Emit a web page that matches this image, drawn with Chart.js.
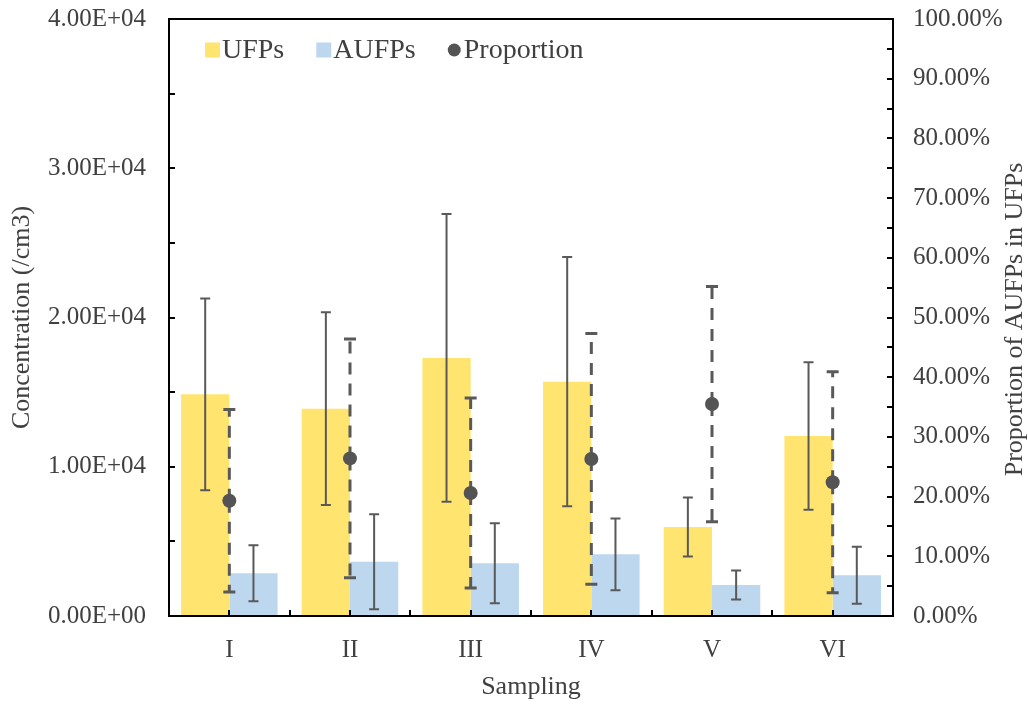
<!DOCTYPE html>
<html>
<head>
<meta charset="utf-8">
<script src="https://cdn.jsdelivr.net/npm/chart.js@4.4.1/dist/chart.umd.min.js"></script>
<style>
  html, body { margin: 0; padding: 0; background: #ffffff; }
  #wrap { width: 1028px; height: 704px; }
</style>
</head>
<body>
<div id="wrap"><canvas id="c" width="1028" height="704"></canvas></div>
<script>
// ---- data ----
const categories = ['I', 'II', 'III', 'IV', 'V', 'VI'];
const ufpMean = [14850, 13890, 17290, 15700, 5960, 12060];
const ufpSd = [6430, 6460, 9640, 8350, 1980, 4940];
const aufpMean = [2860, 3640, 3530, 4130, 2080, 2730];
const aufpSd = [1880, 3180, 2680, 2410, 970, 1910];
const proportion = [19.3, 26.4, 20.6, 26.3, 35.5, 22.4];
const proportionSd = [15.3, 20.0, 15.9, 21.0, 19.7, 18.5];
const seriesNames = ['UFPs', 'AUFPs', 'Proportion'];
const axisTitles = { x: 'Sampling', y: 'Concentration (/cm3)', y1: 'Proportion of AUFPs in UFPs' };

// ---- style ----
const FONT = 'Liberation Serif';
const TXT = '#404040';
const YELLOW = '#FFE46F';
const BLUE = '#BDD7EE';
const DOT = '#545454';
const ERR = '#595959';
const TARGET = { left: 169, top: 19, right: 893, bottom: 616 };

function sci(v) {
  if (v === 0) return '0.00E+00';
  const e = Math.floor(Math.log10(Math.abs(v)));
  const m = v / Math.pow(10, e);
  return m.toFixed(2) + 'E' + (e < 0 ? '-' : '+') + String(Math.abs(e)).padStart(2, '0');
}

const extras = {
  id: 'extras',
  afterDatasetDraw(chart, args) {
    const ds = chart.data.datasets[args.index];
    if (ds.type !== 'bar') return;
    const ctx = chart.ctx;
    const ys = chart.scales[ds.yAxisID];
    ctx.save();
    ctx.strokeStyle = ERR;
    ctx.lineWidth = 2;
    args.meta.data.forEach((el, i) => {
      const x = el.x;
      const hi = ys.getPixelForValue(ds.data[i] + ds.errors[i]);
      const lo = ys.getPixelForValue(ds.data[i] - ds.errors[i]);
      ctx.beginPath();
      ctx.moveTo(x, hi); ctx.lineTo(x, lo);
      ctx.moveTo(x - 5, hi); ctx.lineTo(x + 5, hi);
      ctx.moveTo(x - 5, lo); ctx.lineTo(x + 5, lo);
      ctx.stroke();
    });
    ctx.restore();
  },
  beforeDatasetDraw(chart, args) {
    const ds = chart.data.datasets[args.index];
    if (ds.type !== 'line') return;
    const ctx = chart.ctx;
    const ys = chart.scales[ds.yAxisID];
    ctx.save();
    ctx.strokeStyle = ERR;
    ctx.lineWidth = 3;
    args.meta.data.forEach((el, i) => {
      const x = el.x, y = el.y;
      const hi = ys.getPixelForValue(ds.data[i] + ds.errors[i]);
      const lo = ys.getPixelForValue(ds.data[i] - ds.errors[i]);
      ctx.setLineDash([12, 9]);
      ctx.beginPath();
      ctx.moveTo(x, y); ctx.lineTo(x, hi);
      ctx.moveTo(x, y); ctx.lineTo(x, lo);
      ctx.stroke();
      ctx.setLineDash([]);
      ctx.beginPath();
      ctx.moveTo(x - 6, hi); ctx.lineTo(x + 6, hi);
      ctx.moveTo(x - 6, lo); ctx.lineTo(x + 6, lo);
      ctx.stroke();
    });
    ctx.restore();
  },
  afterDraw(chart) {
    const ctx = chart.ctx;
    const a = chart.chartArea;
    const xs = chart.scales.x, ys = chart.scales.y, y1 = chart.scales.y1;
    ctx.save();
    // frame
    ctx.strokeStyle = '#000';
    ctx.lineWidth = 2;
    ctx.strokeRect(a.left, a.top, a.right - a.left, a.bottom - a.top);
    // inner ticks
    ctx.beginPath();
    for (let v = ys.min; v <= ys.max; v += 5000) {
      const y = Math.round(ys.getPixelForValue(v));
      ctx.moveTo(a.left, y); ctx.lineTo(a.left + 6, y);
    }
    for (let v = y1.min; v <= y1.max; v += 5) {
      const y = Math.round(y1.getPixelForValue(v));
      ctx.moveTo(a.right, y); ctx.lineTo(a.right - 6, y);
    }
    const n = categories.length;
    const pos = [a.left];
    for (let i = 0; i < n; i++) {
      const c = xs.getPixelForValue(i);
      pos.push(c);
      if (i < n - 1) pos.push((c + xs.getPixelForValue(i + 1)) / 2);
    }
    pos.push(a.right);
    pos.forEach(p => { const x = Math.round(p); ctx.moveTo(x, a.bottom); ctx.lineTo(x, a.bottom - 6); });
    ctx.stroke();

    // right axis title (reads bottom to top)
    ctx.fillStyle = TXT;
    ctx.font = '26px "' + FONT + '"';
    ctx.textAlign = 'center';
    ctx.textBaseline = 'middle';
    ctx.save();
    ctx.translate(1015, (a.top + a.bottom) / 2 + 2);
    ctx.rotate(-Math.PI / 2);
    ctx.fillText(axisTitles.y1, 0, 0);
    ctx.restore();

    // legend
    ctx.font = '28px "' + FONT + '"';
    ctx.textAlign = 'left';
    ctx.textBaseline = 'middle';
    let lx = a.left + 36;
    const ly = a.top + 31;
    chart.data.datasets.forEach((ds) => {
      if (ds.type === 'bar') {
        ctx.fillStyle = ds.backgroundColor;
        ctx.fillRect(lx, ly - 7.5, 15, 15);
        lx += 17;
      } else {
        ctx.fillStyle = ds.pointBackgroundColor;
        ctx.beginPath();
        ctx.arc(lx + 6.5, ly, 6.5, 0, Math.PI * 2);
        ctx.fill();
        lx += 16;
      }
      ctx.fillStyle = TXT;
      ctx.fillText(ds.label, lx, ly + 1);
      lx += ctx.measureText(ds.label).width + 32;
    });
    ctx.restore();
  }
};

const tickFont = { family: FONT, size: 25 };
const titleFont = { family: FONT, size: 26 };

function noPadV(s) { s.paddingTop = 0; s.paddingBottom = 0; }

const chart = new Chart(document.getElementById('c'), {
  data: {
    labels: categories,
    datasets: [
      { type: 'bar', label: seriesNames[0], data: ufpMean, errors: ufpSd, backgroundColor: YELLOW,
        yAxisID: 'y', order: 2, categoryPercentage: 0.8, barPercentage: 1.0 },
      { type: 'bar', label: seriesNames[1], data: aufpMean, errors: aufpSd, backgroundColor: BLUE,
        yAxisID: 'y', order: 2, categoryPercentage: 0.8, barPercentage: 1.0 },
      { type: 'line', label: seriesNames[2], data: proportion, errors: proportionSd, showLine: false,
        pointRadius: 7, pointHoverRadius: 7, pointBackgroundColor: DOT, pointBorderWidth: 0,
        borderColor: DOT, yAxisID: 'y1', order: 0 }
    ]
  },
  options: {
    responsive: false,
    devicePixelRatio: 1,
    animation: false,
    events: [],
    layout: { padding: { top: TARGET.top, left: 0, right: 0, bottom: 0 }, autoPadding: false },
    plugins: { legend: { display: false }, tooltip: { enabled: false } },
    scales: {
      x: {
        type: 'category', offset: true,
        grid: { display: false, drawTicks: false }, border: { display: false },
        ticks: { font: tickFont, color: TXT, padding: 19, maxRotation: 0 },
        title: { display: true, text: axisTitles.x, font: titleFont, color: TXT, padding: { top: 0, bottom: 1 } },
        afterFit(s) { s.height = 704 - TARGET.bottom; s.paddingLeft = 0; s.paddingRight = 0; }
      },
      y: {
        position: 'left', min: 0, max: 40000,
        grid: { display: false, drawTicks: false }, border: { display: false },
        ticks: { stepSize: 10000, callback: sci, font: tickFont, color: TXT, padding: 23 },
        title: { display: true, text: axisTitles.y, font: titleFont, color: TXT, padding: { top: 7, bottom: 0 } },
        afterFit(s) { s.width = TARGET.left; noPadV(s); }
      },
      y1: {
        position: 'right', min: 0, max: 100,
        grid: { display: false, drawTicks: false }, border: { display: false },
        ticks: { stepSize: 10, callback: v => v.toFixed(2) + '%', font: tickFont, color: TXT, padding: 20 },
        afterFit(s) { s.width = 1028 - TARGET.right; noPadV(s); }
      }
    }
  },
  plugins: [extras]
});

// correct the chart area so it lands where the reference has it
(function fix() {
  const ca = chart.chartArea;
  const p = chart.options.layout.padding;
  const dTop = ca.top - TARGET.top;
  const dBottom = TARGET.bottom - ca.bottom;
  if (Math.abs(dTop) > 0.5 || Math.abs(dBottom) > 0.5) {
    chart.options.layout.padding = {
      top: Math.max(0, p.top - dTop), left: 0, right: 0,
      bottom: Math.max(0, p.bottom - dBottom)
    };
    chart.update();
  }
})();
</script>
</body>
</html>
